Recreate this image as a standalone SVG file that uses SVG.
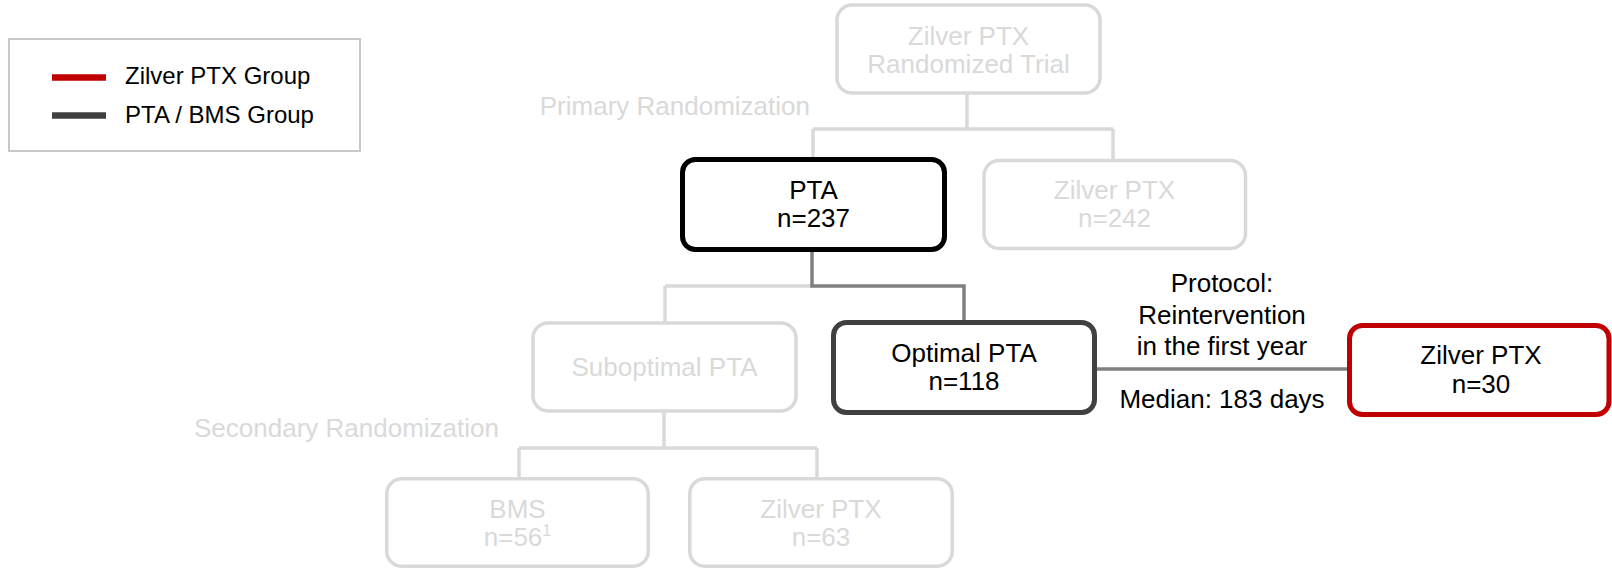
<svg xmlns="http://www.w3.org/2000/svg" width="1612" height="570" viewBox="0 0 1612 570">
<style>
text{font-family:"Liberation Sans",Arial,sans-serif;font-size:26px;text-anchor:middle}
.g{fill:#d9d9d9}
.k{fill:#000}
.box{fill:#fff;stroke:#d9d9d9;stroke-width:3.5}
.bk{fill:#fff;stroke:#000;stroke-width:5}
.dk{fill:#fff;stroke:#404040;stroke-width:5}
.rd{fill:#fff;stroke:#c00000;stroke-width:5}
.cl{fill:none;stroke:#d9d9d9;stroke-width:3.5}
.cd{fill:none;stroke:#808080;stroke-width:3.5}
.lg{font-size:24px;text-anchor:start}
</style>
<rect width="1612" height="570" fill="#fff"/>
<g id="legend">
<rect x="9" y="39" width="351" height="112" fill="#fff" stroke="#c8c8c8" stroke-width="2"/>
<line x1="52" y1="77.5" x2="106" y2="77.5" stroke="#c00000" stroke-width="6.5"/>
<line x1="52" y1="115.5" x2="106" y2="115.5" stroke="#404040" stroke-width="6.5"/>
<text class="k lg" x="125" y="84">Zilver PTX Group</text>
<text class="k lg" x="125" y="123">PTA / BMS Group</text>
</g>
<g id="labels">
<text class="g" x="810" y="115" style="text-anchor:end">Primary Randomization</text>
<text class="g" x="194" y="437" style="text-anchor:start">Secondary Randomization</text>
</g>
<g id="connectors">
<path class="cl" d="M967 93V129M813 129H1113M1113 129V160M813 129V159"/>
<path class="cl" d="M665 286H812M665 286V322"/>
<path class="cd" d="M812 250V286H964V321"/>
<path class="cl" d="M664 412V448M519 448H817M519 448V478M817 448V478"/>
<path class="cd" d="M1096 369H1348"/>
</g>
<g id="edge-label">
<text class="k" x="1222" y="292">Protocol:</text>
<text class="k" x="1222" y="324">Reintervention</text>
<text class="k" x="1222" y="355">in the first year</text>
<text class="k" x="1222" y="408">Median: 183 days</text>
</g>
<g id="trial">
<rect class="box" x="837" y="5" width="263" height="88" rx="15"/>
<text class="g" x="968.5" y="45">Zilver PTX</text>
<text class="g" x="968.5" y="73">Randomized Trial</text>
</g>
<g id="pta">
<rect class="bk" x="682.5" y="159.5" width="262" height="90" rx="13"/>
<text class="k" x="813.5" y="199">PTA</text>
<text class="k" x="813.5" y="227">n=237</text>
</g>
<g id="zilver242">
<rect class="box" x="984" y="160.5" width="261.5" height="88" rx="15"/>
<text class="g" x="1114.5" y="199">Zilver PTX</text>
<text class="g" x="1114.5" y="227">n=242</text>
</g>
<g id="suboptimal">
<rect class="box" x="533" y="323" width="263" height="88" rx="15"/>
<text class="g" x="664.5" y="376">Suboptimal PTA</text>
</g>
<g id="optimal">
<rect class="dk" x="833.5" y="322.5" width="261" height="90" rx="13"/>
<text class="k" x="964" y="362">Optimal PTA</text>
<text class="k" x="964" y="390">n=118</text>
</g>
<g id="zilver30">
<rect class="rd" x="1349.5" y="325.5" width="259.5" height="89" rx="13"/>
<text class="k" x="1481" y="364">Zilver PTX</text>
<text class="k" x="1481" y="393">n=30</text>
</g>
<g id="bms">
<rect class="box" x="386.75" y="478.75" width="261.5" height="87.5" rx="15"/>
<text class="g" x="517.5" y="518">BMS</text>
<text class="g" x="517.5" y="546">n=56<tspan font-size="16" dy="-10">1</tspan></text>
</g>
<g id="zilver63">
<rect class="box" x="689.75" y="478.75" width="262.5" height="87.5" rx="15"/>
<text class="g" x="821" y="518">Zilver PTX</text>
<text class="g" x="821" y="546">n=63</text>
</g>
</svg>
